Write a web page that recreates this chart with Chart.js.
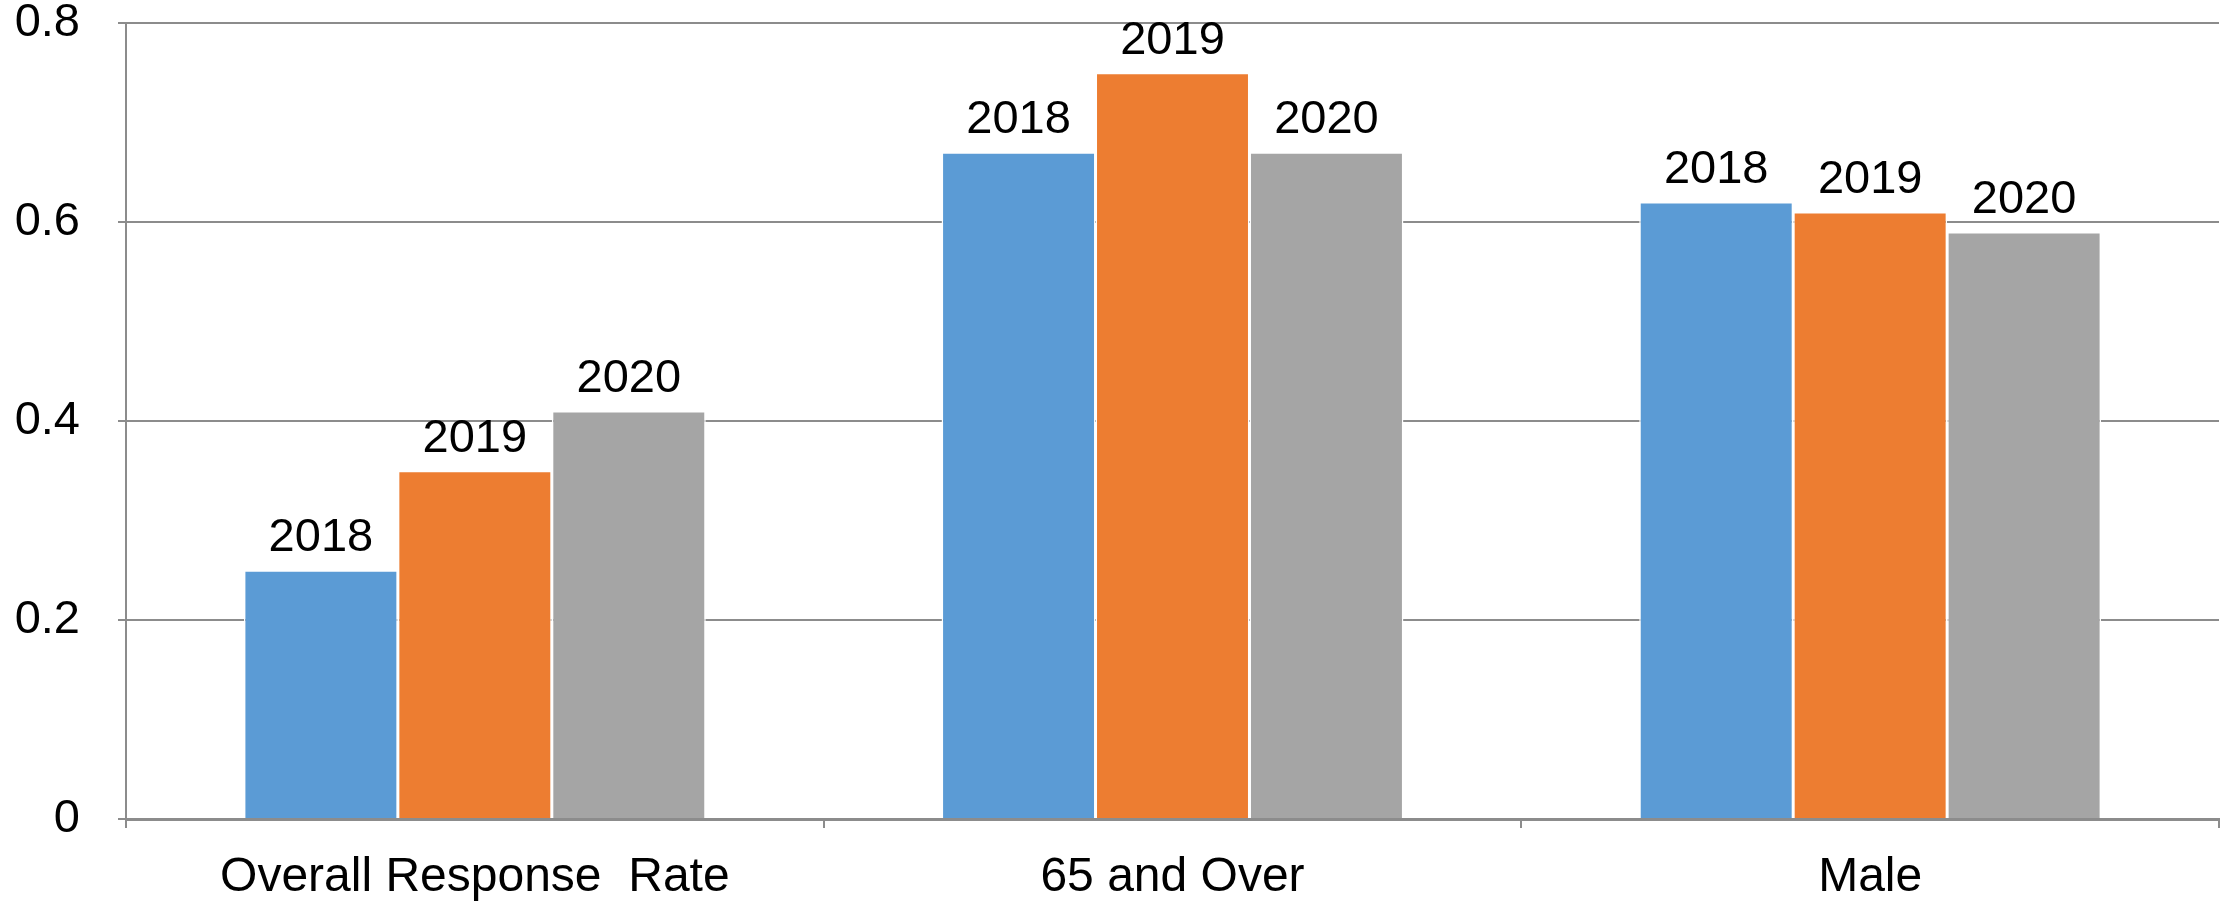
<!DOCTYPE html>
<html>
<head>
<meta charset="utf-8">
<script src="https://cdn.jsdelivr.net/npm/chart.js@4.4.1/dist/chart.umd.min.js"></script>
<style>
  html, body { margin: 0; padding: 0; background: #ffffff; }
  #wrap { width: 2227px; height: 902px; }
</style>
</head>
<body>
<div id="wrap"><canvas id="c" width="2227" height="902"></canvas></div>
<script>
const categories = ['Overall Response  Rate', '65 and Over', 'Male'];
const seriesNames = ['2018', '2019', '2020'];
const values2018 = [0.25, 0.67, 0.62];
const values2019 = [0.35, 0.75, 0.61];
const values2020 = [0.41, 0.67, 0.59];
const yTicks = [0, 0.2, 0.4, 0.6, 0.8];

const colors = ['#5B9BD5', '#ED7D31', '#A5A5A5'];
const FONT = "'Liberation Sans', Arial, Helvetica, sans-serif";
const GRID = '#8c8c8c';

const barLabels = {
  id: 'barLabels',
  afterDatasetsDraw(chart) {
    const ctx = chart.ctx;
    ctx.save();
    ctx.font = '47px ' + FONT;
    ctx.fillStyle = '#000000';
    ctx.textAlign = 'center';
    ctx.textBaseline = 'alphabetic';
    chart.data.datasets.forEach((ds, i) => {
      const meta = chart.getDatasetMeta(i);
      meta.data.forEach((bar) => {
        ctx.fillText(ds.label, bar.x, bar.y - 19);
      });
    });
    ctx.restore();
  }
};

const datasets = [values2018, values2019, values2020].map((vals, i) => ({
  label: seriesNames[i],
  data: vals,
  backgroundColor: colors[i],
  borderColor: '#ffffff',
  borderWidth: 1.5,
  borderSkipped: 'bottom',
  categoryPercentage: 0.662,
  barPercentage: 1.0
}));

new Chart(document.getElementById('c'), {
  type: 'bar',
  data: { labels: categories, datasets },
  options: {
    responsive: false,
    animation: false,
    devicePixelRatio: 1,
    layout: { padding: { top: 23, right: 8, bottom: 0, left: 0 }, autoPadding: false },
    plugins: {
      legend: { display: false },
      tooltip: { enabled: false }
    },
    scales: {
      x: {
        offset: true,
        grid: {
          offset: true,
          drawOnChartArea: false,
          drawTicks: true,
          tickLength: 9,
          color: GRID,
          lineWidth: 2
        },
        border: { display: true, color: GRID, width: 3 },
        ticks: {
          color: '#000000',
          font: { family: FONT, size: 48, lineHeight: 1.2 },
          padding: 21,
          maxRotation: 0,
          autoSkip: false
        },
        afterFit(scale) {
          scale.height = 83;
          scale.paddingLeft = 0; scale.paddingRight = 0;
        }
      },
      y: {
        min: 0,
        max: 0.8,
        afterBuildTicks(scale) { scale.ticks = yTicks.map(v => ({ value: v })); },
        grid: {
          drawTicks: true,
          tickLength: 8,
          color: GRID,
          lineWidth: 2
        },
        border: { display: true, color: GRID, width: 2 },
        ticks: {
          color: '#000000',
          font: { family: FONT, size: 47, lineHeight: 1.0 },
          padding: 38,
          callback: (v) => String(v)
        },
        afterFit(scale) {
          scale.width = 126;
          scale.paddingTop = 0; scale.paddingBottom = 0;
        }
      }
    }
  },
  plugins: [barLabels]
});
</script>
</body>
</html>
